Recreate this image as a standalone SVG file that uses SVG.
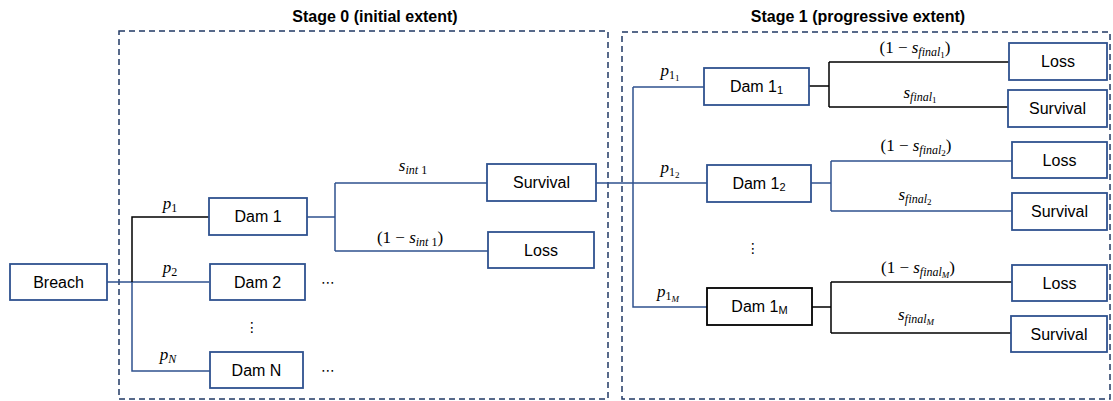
<svg xmlns="http://www.w3.org/2000/svg" width="1113" height="401" viewBox="0 0 1113 401">
<style>
.stage{fill:none;stroke:#203864;stroke-width:1.5;stroke-dasharray:6 4}
.title{font-family:"Liberation Sans",Arial,sans-serif;font-weight:bold;font-size:16px;fill:#000;text-anchor:middle}
.box{fill:#fff;stroke:#2F528F;stroke-width:1.8}
.boxk{fill:#fff;stroke:#000;stroke-width:1.8}
.lbl{font-family:"Liberation Sans",Arial,sans-serif;font-size:16px;fill:#000;text-anchor:middle}
.m{font-family:"Liberation Serif","Times New Roman",serif;font-style:italic;font-size:17px;fill:#000;text-anchor:middle}
.up{font-style:normal}
.s{font-size:12px}
.ss{font-size:9px}
.cb{fill:none;stroke:#2F528F;stroke-width:1.5}
.ck{fill:none;stroke:#000;stroke-width:1.5}
.dots{font-family:"DejaVu Sans",sans-serif;font-size:14px;fill:#000;text-anchor:middle}
</style>
<g id="stages">
<rect class="stage" x="119" y="31" width="489" height="368"/>
<rect class="stage" x="622" y="32" width="488" height="367"/>
<text class="title" x="375" y="22">Stage 0 (initial extent)</text>
<text class="title" x="858" y="22">Stage 1 (progressive extent)</text>
</g>
<g id="connectors">
<path class="cb" d="M107 282H209M132 282V371H210"/>
<path class="ck" d="M132 282V217H209"/>
<path class="cb" d="M307 217H335M335 183V251M335 183H487M335 251H488"/>
<path class="cb" d="M596 183H707M633 87V307H707M633 87H704"/>
<path class="ck" d="M809 86H829M829 62V107M829 62H1009M829 107H1008"/>
<path class="cb" d="M811 183H831M831 161V211M831 161H1012M831 211H1012"/>
<path class="ck" d="M812 307H831M831 282V333M831 282H1012M831 333H1011"/>
</g>
<g id="labels">
<text class="m" x="170" y="209">p<tspan class="up s" dy="3">1</tspan></text>
<text class="m" x="170" y="273">p<tspan class="up s" dy="3">2</tspan></text>
<text class="m" x="168" y="360">p<tspan class="s" dy="3">N</tspan></text>
<text class="m" x="413" y="171">s<tspan class="s" dy="3">int</tspan><tspan class="up s"> 1</tspan></text>
<text class="m" x="410" y="243"><tspan class="up">(1 − </tspan>s<tspan class="s" dy="3">int</tspan><tspan class="up s"> 1</tspan><tspan class="up" dy="-3">)</tspan></text>
<text class="m" x="915" y="53"><tspan class="up">(1 − </tspan>s<tspan class="s" dy="3">final</tspan><tspan class="up ss" dy="2">1</tspan><tspan class="up" dy="-5">)</tspan></text>
<text class="m" x="920" y="98">s<tspan class="s" dy="3">final</tspan><tspan class="up ss" dy="2">1</tspan></text>
<text class="m" x="916" y="151"><tspan class="up">(1 − </tspan>s<tspan class="s" dy="3">final</tspan><tspan class="up ss" dy="2">2</tspan><tspan class="up" dy="-5">)</tspan></text>
<text class="m" x="915" y="200">s<tspan class="s" dy="3">final</tspan><tspan class="up ss" dy="2">2</tspan></text>
<text class="m" x="918" y="273"><tspan class="up">(1 − </tspan>s<tspan class="s" dy="3">final</tspan><tspan class="ss" dy="2">M</tspan><tspan class="up" dy="-5">)</tspan></text>
<text class="m" x="916" y="320">s<tspan class="s" dy="3">final</tspan><tspan class="ss" dy="2">M</tspan></text>
<text class="m" x="670" y="76">p<tspan class="up s" dy="3">1</tspan><tspan class="up ss" dy="2">1</tspan></text>
<text class="m" x="670" y="173">p<tspan class="up s" dy="3">1</tspan><tspan class="up ss" dy="2">2</tspan></text>
<text class="m" x="668" y="297">p<tspan class="up s" dy="3">1</tspan><tspan class="ss" dy="2">M</tspan></text>
<text class="dots" x="328" y="287">⋯</text>
<text class="dots" x="328" y="375">⋯</text>
<text class="dots" x="252" y="332">⋮</text>
<text class="dots" x="753" y="253">⋮</text>
</g>
<g id="breach"><rect class="box" x="10" y="264" width="97" height="36"/><text class="lbl" x="58.5" y="288">Breach</text></g>
<g id="dam1"><rect class="box" x="209" y="198" width="98" height="37"/><text class="lbl" x="258" y="222">Dam 1</text></g>
<g id="dam2"><rect class="box" x="210" y="264" width="95" height="36"/><text class="lbl" x="257.5" y="288">Dam 2</text></g>
<g id="damN"><rect class="box" x="210" y="352" width="93" height="36"/><text class="lbl" x="256.5" y="376">Dam N</text></g>
<g id="survival0"><rect class="box" x="487" y="164" width="109" height="37"/><text class="lbl" x="541.5" y="188">Survival</text></g>
<g id="loss0"><rect class="box" x="488" y="232" width="106" height="36"/><text class="lbl" x="541" y="256">Loss</text></g>
<g id="dam1_1"><rect class="box" x="704" y="68" width="105" height="37"/><text class="lbl" x="756.5" y="92">Dam 1<tspan font-size="11" dy="2">1</tspan></text></g>
<g id="dam1_2"><rect class="box" x="707" y="165" width="104" height="37"/><text class="lbl" x="759" y="189">Dam 1<tspan font-size="11" dy="2">2</tspan></text></g>
<g id="dam1_M"><rect class="boxk" x="707" y="288" width="105" height="37"/><text class="lbl" x="759.5" y="312">Dam 1<tspan font-size="11" dy="2">M</tspan></text></g>
<g id="loss1"><rect class="box" x="1009" y="43" width="98" height="37"/><text class="lbl" x="1058" y="67">Loss</text></g>
<g id="survival1"><rect class="box" x="1008" y="90" width="99" height="37"/><text class="lbl" x="1057.5" y="114">Survival</text></g>
<g id="loss2"><rect class="box" x="1012" y="142" width="95" height="36"/><text class="lbl" x="1059.5" y="166">Loss</text></g>
<g id="survival2"><rect class="box" x="1012" y="193" width="95" height="37"/><text class="lbl" x="1059.5" y="217">Survival</text></g>
<g id="lossM"><rect class="box" x="1012" y="265" width="95" height="36"/><text class="lbl" x="1059.5" y="289">Loss</text></g>
<g id="survivalM"><rect class="box" x="1011" y="316" width="96" height="36"/><text class="lbl" x="1059" y="340">Survival</text></g>
</svg>
